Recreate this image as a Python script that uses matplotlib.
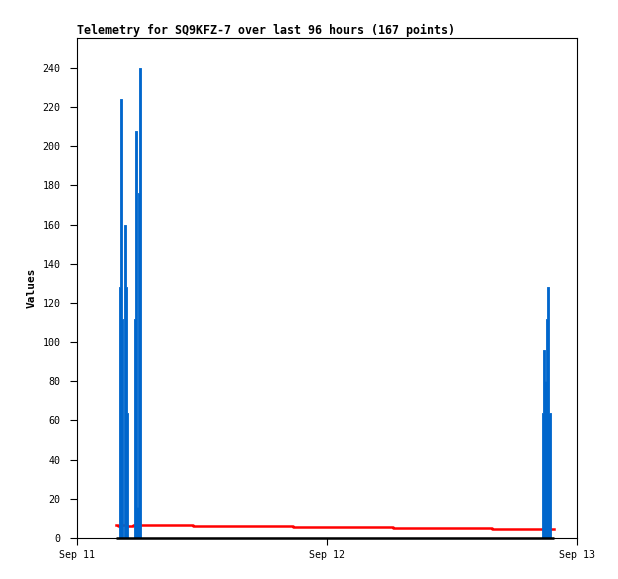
import matplotlib
matplotlib.use("Agg")
import matplotlib.pyplot as plt
import numpy as np

# ---- data (hours since Sep 11 00:00) ----
blue_t = [4.03, 4.13, 4.32, 4.42, 4.51, 4.70, 4.80, 4.90, 5.47, 5.57, 5.76, 5.86, 5.95, 6.14,
          44.64, 44.74, 44.93, 45.02, 45.12, 45.31, 45.50]
blue_v = [128, 224, 112, 0, 160, 128, 64, 0, 112, 208, 16, 176, 240, 0,
          64, 96, 80, 112, 128, 64, 0]

red_t = [3.74, 3.90, 4.20, 4.80, 5.40, 11.14, 20.74, 30.34, 39.84, 45.79]
red_v = [6.6, 6.1, 6.6, 6.1, 6.8, 6.3, 5.8, 5.2, 4.7, 4.7]

black_t = [3.74, 45.79]
black_v = [0, 0]

xtick_pos = [0, 24, 48]
xtick_labels = ["Sep 11", "Sep 12", "Sep 13"]
yticks = list(range(0, 241, 20))

title = "Telemetry for SQ9KFZ-7 over last 96 hours (167 points)"

# ---- figure ----
W, H = 618, 579
fig = plt.figure(figsize=(W / 100, H / 100), dpi=100)
ax = fig.add_axes([77 / W, (H - 538) / H, 500 / W, 500 / H])

ax.step(red_t, red_v, where="post", color="#ff0000", lw=1.8, zorder=2)
ax.fill_between(blue_t, blue_v, step="post", facecolor="#0066cc", edgecolor="#0066cc",
                lw=0.6, zorder=3, antialiased=False)
ax.plot(black_t, black_v, color="black", lw=1.8, zorder=4, solid_capstyle="butt",
        clip_on=False)

ax.set_xlim(0, 48)
ax.set_ylim(0, 255.3)
ax.set_xticks(xtick_pos)
ax.set_xticklabels(xtick_labels)
ax.set_yticks(yticks)

font = "DejaVu Sans Mono"
for lab in ax.get_xticklabels() + ax.get_yticklabels():
    lab.set_family(font)
    lab.set_fontsize(7.2)
ax.tick_params(axis="both", direction="out", length=5, width=0.8, color="black")
ax.tick_params(axis="x", pad=4)
ax.tick_params(axis="y", pad=7)

for s in ax.spines.values():
    s.set_linewidth(0.8)
    s.set_color("black")

ax.set_title(title, loc="left", family=font, fontsize=8.35, fontweight="bold", pad=3)
ax.set_ylabel("Values", family=font, fontsize=8, fontweight="bold", labelpad=4)

fig.savefig("out.png", dpi=100)
